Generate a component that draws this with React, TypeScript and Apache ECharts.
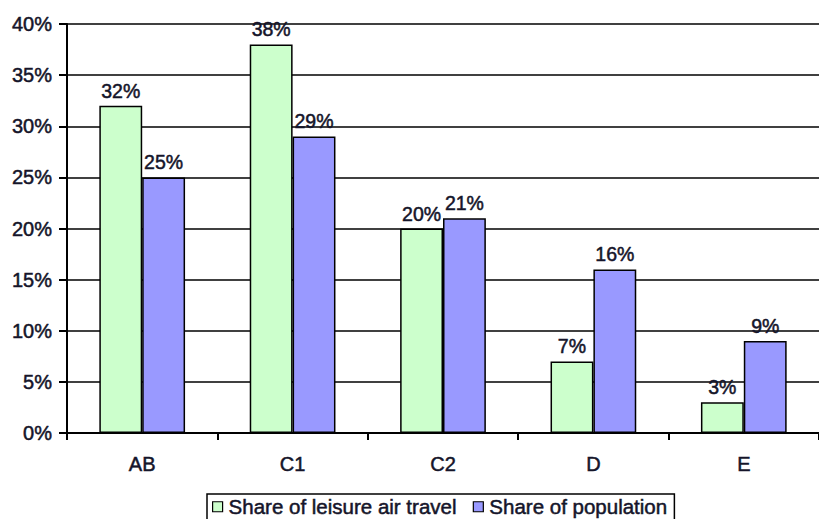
import React, { useEffect, useRef } from "react";
import * as echarts from "echarts";

const categories = ["AB", "C1", "C2", "D", "E"];
const leisureAirTravel = [32, 38, 20, 7, 3];
const population = [25, 29, 21, 16, 9];
const seriesNames = ["Share of leisure air travel", "Share of population"];
const yTicks = [0, 5, 10, 15, 20, 25, 30, 35, 40];

const FONT = "'Liberation Sans', Arial, sans-serif";
const TEXT = "#15152a";
const heavy = { textBorderColor: TEXT, textBorderWidth: 0.5 };

export default function App() {
  const ref = useRef<HTMLDivElement>(null);
  useEffect(() => {
    if (!ref.current) return;
    const chart = echarts.init(ref.current, undefined, { renderer: "svg" });
    const labelStyle = {
      show: true,
      position: "top" as const,
      distance: 5,
      formatter: (p: any) => `${p.value}%`,
      fontFamily: FONT,
      fontSize: 19.5,
      color: TEXT,
      ...heavy,
    };
    chart.setOption({
      animation: false,
      backgroundColor: "#ffffff",
      grid: { left: 67, top: 24, width: 760, height: 409, containLabel: false },
      legend: {
        data: seriesNames,
        left: 207,
        top: 494,
        orient: "horizontal",
        borderColor: "#000",
        borderWidth: 1.5,
        padding: [2, 7, 4, 5],
        itemWidth: 10,
        itemHeight: 10,
        itemGap: 16,
        icon: "rect",
        itemStyle: { borderColor: "#000", borderWidth: 1.2 },
        textStyle: {
          fontFamily: FONT,
          fontSize: 20.5,
          lineHeight: 20,
          color: TEXT,
          padding: [0, 0, 0, 1],
          ...heavy,
        },
      },
      xAxis: {
        type: "category",
        data: categories,
        axisLine: { lineStyle: { color: "#000", width: 2 } },
        axisTick: { show: true, length: 7, lineStyle: { color: "#000", width: 2 } },
        axisLabel: { fontFamily: FONT, fontSize: 20, color: TEXT, margin: 21, ...heavy },
        splitLine: { show: false },
      },
      yAxis: {
        type: "value",
        min: yTicks[0],
        max: yTicks[yTicks.length - 1],
        interval: 5,
        axisLine: { show: true, lineStyle: { color: "#000", width: 2 } },
        axisTick: { show: true, length: 8, inside: false, lineStyle: { color: "#000", width: 2 } },
        axisLabel: {
          fontFamily: FONT,
          fontSize: 20,
          color: TEXT,
          margin: 15,
          formatter: (v: number) => `${v}%`,
          ...heavy,
        },
        splitLine: { show: true, lineStyle: { color: "#000", width: 1.5 } },
      },
      series: [
        {
          name: seriesNames[0],
          type: "bar",
          data: leisureAirTravel,
          barGap: "0%",
          barCategoryGap: "43%",
          itemStyle: { color: "#ccffcc", borderColor: "#000", borderWidth: 1.5 },
          label: labelStyle,
        },
        {
          name: seriesNames[1],
          type: "bar",
          data: population,
          itemStyle: { color: "#9999ff", borderColor: "#000", borderWidth: 1.5 },
          label: labelStyle,
        },
      ],
    });
    return () => chart.dispose();
  }, []);
  return (
    <div
      ref={ref}
      style={{ position: "fixed", left: 0, top: 0, width: 819, height: 519 }}
    />
  );
}
